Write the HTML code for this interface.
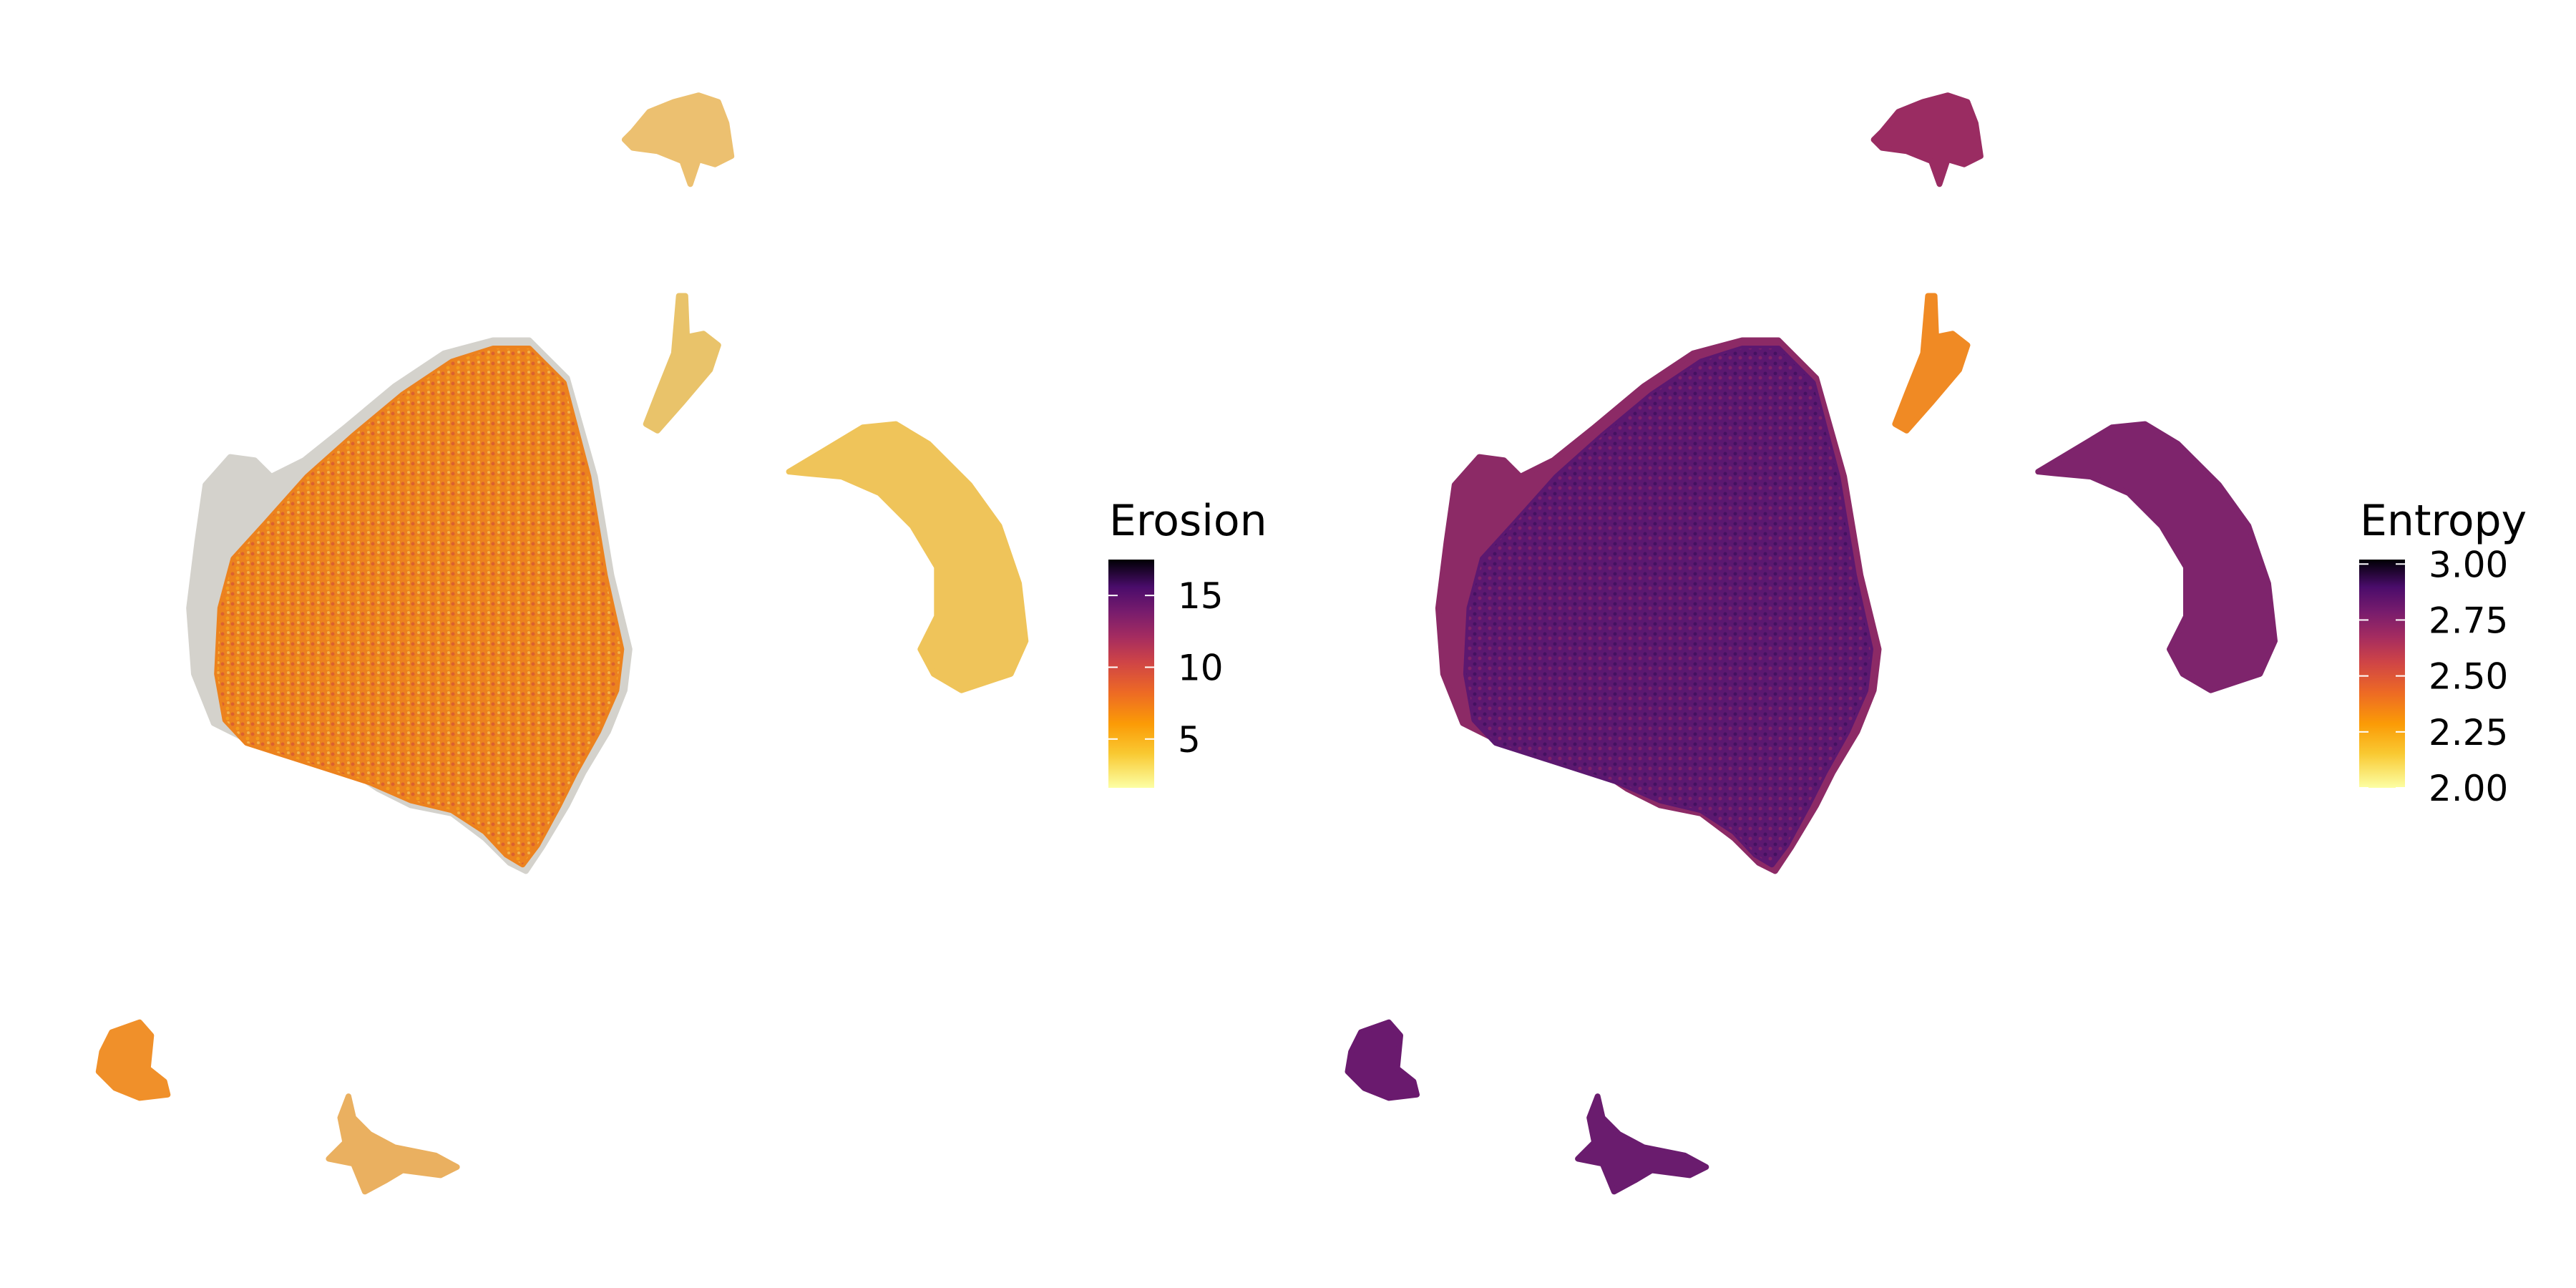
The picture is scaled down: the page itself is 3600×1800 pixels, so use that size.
<!DOCTYPE html>
<html><head><meta charset="utf-8"><style>
html,body{margin:0;padding:0;background:#fff}
svg{display:block}
text{font-family:"DejaVu Sans","Liberation Sans",sans-serif;fill:#000}
</style></head><body>
<svg id="chart" width="3600" height="1800" viewBox="0 0 3600 1800" xmlns="http://www.w3.org/2000/svg">
<defs>
<linearGradient id="inferno" x1="0" y1="1" x2="0" y2="0">
<stop offset="0" stop-color="#fcffa4"/><stop offset="0.15" stop-color="#f9c932"/><stop offset="0.28" stop-color="#fb9b06"/><stop offset="0.42" stop-color="#ed6925"/><stop offset="0.55" stop-color="#cf4446"/><stop offset="0.66" stop-color="#a52c60"/><stop offset="0.77" stop-color="#781c6d"/><stop offset="0.88" stop-color="#4a0c6b"/><stop offset="1" stop-color="#000004"/>
</linearGradient>
<pattern id="speckL" width="14" height="14" patternUnits="userSpaceOnUse"><circle cx="3" cy="4" r="2.5" fill="#c94040"/><circle cx="10" cy="10" r="2.5" fill="#fbb61a"/><circle cx="11" cy="2" r="2" fill="#f6e27a"/></pattern>
<pattern id="speckR" width="14" height="14" patternUnits="userSpaceOnUse"><circle cx="3" cy="4" r="2.5" fill="#2b0a50"/><circle cx="10" cy="10" r="2.5" fill="#a52c60"/></pattern>
</defs>
<g id="panels"></g>
<g>
<text x="1550" y="748" font-size="60">Erosion</text>
<rect x="1549" y="782" width="64" height="319" fill="url(#inferno)"/>
<g id="legL"></g>
</g>
<g>
<text x="3298" y="748" font-size="60">Entropy</text>
<rect x="3297" y="782" width="64" height="319" fill="url(#inferno)"/>
<g id="legR"></g>
</g>
</svg>
<script>
// cluster outlines in embedding units
const mainOuter=[[322,207],[345,230],[362,290],[372,350],[383,395],[380,420],[370,445],[355,470],[345,490],[330,515],[320,530],[310,525],[295,510],[275,495],[250,490],[230,480],[215,470],[190,462],[160,455],[130,440],[118,410],[115,370],[120,330],[125,295],[140,278],[155,280],[165,290],[185,280],[210,260],[240,235],[270,215],[300,207]];
const mainInner=[[322,212],[343,233],[358,290],[368,350],[378,395],[375,420],[364,445],[350,470],[340,490],[327,514],[318,526],[308,520],[295,506],[275,493],[250,487],[225,476],[200,468],[175,460],[150,452],[137,438],[132,410],[134,370],[142,340],[162,318],[187,290],[215,265],[245,240],[275,220],[300,212]];
const topIsland=[[385,80],[395,68],[410,62],[425,58],[437,62],[442,75],[445,95],[435,100],[425,97],[420,112],[415,98],[400,92],[385,90],[380,85]];
const thinIsland=[[413,180],[417,180],[418,205],[428,203],[437,210],[432,225],[415,245],[400,262],[393,258],[400,240],[410,215]];
const crescent=[[480,287],[505,272],[525,260],[545,258],[565,270],[590,295],[608,320],[620,355],[624,390],[615,410],[585,420],[568,410],[560,395],[570,375],[570,345],[555,320],[535,300],[512,290],[490,288]];
const blIsland=[[62,640],[68,628],[85,622],[92,630],[90,650],[100,658],[102,666],[85,668],[70,662],[60,652]];
const bmIsland=[[207,680],[212,667],[215,680],[225,690],[240,698],[265,703],[278,710],[268,715],[245,712],[235,718],[222,725],[215,708],[200,705],[210,695]];
const clusterNames=["main-cluster-halo","main-cluster","top-island","thin-island","crescent-cluster","bottom-left-cluster","bottom-middle-cluster"];
const erosionColors=["#d4d2cc","#ec821e","#ecc070","#e9c36a","#efc45a","#f0902a","#eab060"];
const entropyColors=["#8c2a66","#5c1870","#9a2c62","#f08a24","#7e246c","#6a1a6e","#6a1c6e"];
const panelOffsets=[0,760];
const erosionTicks=[5,10,15];
const entropyTicks=[2.00,2.25,2.50,2.75,3.00];

const S=2.297;
const sx=(d,p)=> (d+p)*S;
const sy=d=> d*S;
const NS="http://www.w3.org/2000/svg";
const shapes=[mainOuter,mainInner,topIsland,thinIsland,crescent,blIsland,bmIsland];
const panels=document.getElementById('panels');
panelOffsets.forEach((off,pi)=>{
  const g=document.createElementNS(NS,'g');
  
  
  const cols=pi?entropyColors:erosionColors;
  shapes.forEach((pts,i)=>{
    const el=document.createElementNS(NS,'polygon');
    el.setAttribute('points',pts.map(p=>sx(p[0],off).toFixed(1)+','+sy(p[1]).toFixed(1)).join(' '));
    el.setAttribute('fill',cols[i]);
    el.setAttribute('stroke',cols[i]);
    el.setAttribute('stroke-width','8');
    el.setAttribute('stroke-linejoin','round');
    
    
    g.appendChild(el);
    if(i===1){
      const t=document.createElementNS(NS,'polygon');
      t.setAttribute('points',el.getAttribute('points'));
      t.setAttribute('fill',pi?'url(#speckR)':'url(#speckL)');
      t.setAttribute('opacity','0.5');
      
      
      g.appendChild(t);
    }
  });
  panels.appendChild(g);
});
function legend(id,ticks,vmin,vmax,x,fmt){
  const g=document.getElementById(id);
  const y=v=>1101-(v-vmin)/(vmax-vmin)*319;
  ticks.forEach(v=>{
    [[x,x+13],[x+51,x+64]].forEach(([a,b])=>{
      const l=document.createElementNS(NS,'line');
      l.setAttribute('x1',a);l.setAttribute('x2',b);
      l.setAttribute('y1',y(v));l.setAttribute('y2',y(v));
      l.setAttribute('stroke','#fff');l.setAttribute('stroke-width','2');
      
      
      g.appendChild(l);
    });
    const t=document.createElementNS(NS,'text');
    t.setAttribute('x',x+97);t.setAttribute('y',y(v)+18);
    t.setAttribute('font-size','50');
    t.textContent=fmt(v);
    
    
    g.appendChild(t);
  });
}
legend('legL',erosionTicks,1.6,17.5,1549,v=>String(v));
legend('legR',entropyTicks,2.0,3.02,3297,v=>v.toFixed(2));
</script>
</body></html>
